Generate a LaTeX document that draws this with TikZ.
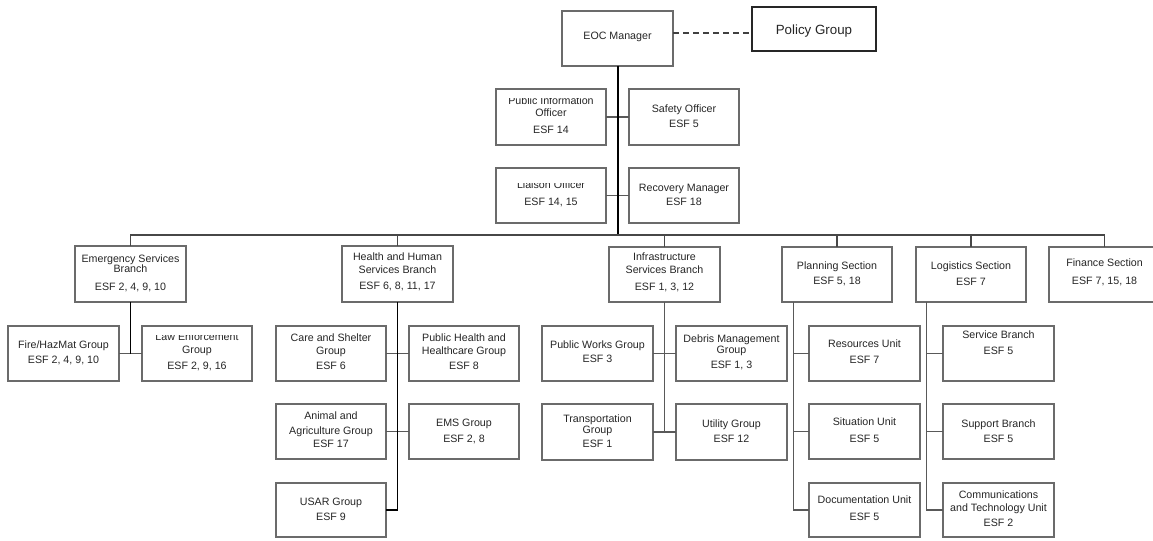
\documentclass[tikz,border=0pt]{standalone}
\usepackage{fontspec}
\setmainfont{Liberation Sans}
\tikzset{
  bx/.style={rectangle, draw=black!58, line width=0.8pt, fill=white, inner sep=0pt, outer sep=0pt},
  pbx/.style={rectangle, draw=black!85, line width=1.1pt, fill=white, inner sep=0pt, outer sep=0pt},
  txt/.style={align=center, font=\fontsize{8}{9}\selectfont, text=black!85, inner sep=0pt},
  trunk/.style={draw=black, line width=1.5pt},
  buslink/.style={draw=black!72, line width=0.85pt},
  link/.style={draw=black!65, line width=0.8pt},
  dlink/.style={draw=black, line width=1.1pt},
  dashlink/.style={draw=black!75, line width=0.9pt, dash pattern=on 4.5pt off 3pt},
}
% \orgbox[text yshift]{name}{x1}{y1}{x2}{y2}{text}
\newcommand\orgbox[7][0.8pt]{%
  \node[bx, minimum width={(#5-#3)*0.75pt}, minimum height={(#6-#4)*0.75pt}] (#2) at ({(#3+#5)/2},{(#4+#6)/2}) {};
  \node[txt, yshift=#1] (#2-t) at (#2.center) {#7};}
% \cutbox[text yshift]{name}{x1}{y1}{x2}{y2}{clip top}{text}
\newcommand\cutbox[8][0.8pt]{%
  \node[bx, minimum width={(#5-#3)*0.75pt}, minimum height={(#6-#4)*0.75pt}] (#2) at ({(#3+#5)/2},{(#4+#6)/2}) {};
  \begin{scope}
    \clip (#3,#7) rectangle (#5,#6);
    \node[txt, yshift=#1] (#2-t) at (#2.center) {#8};
  \end{scope}}
\begin{document}
\begin{tikzpicture}[x=0.75pt, y=-0.75pt]
\useasboundingbox (0,0) rectangle (1153,540);
\clip (0,0) rectangle (1153,540);

% top
\orgbox[1.3pt]{eoc}{562}{11}{673}{66}{EOC Manager}
\node[pbx, minimum width={124*0.75pt}, minimum height={44*0.75pt}] (policy) at (814,29) {};
\node[txt, font=\fontsize{10}{12}\selectfont, yshift=-1.2pt] (policy-t) at (policy.center) {Policy Group};

\cutbox[1.5pt]{pio}{496}{89}{606}{145}{98.5}{Public Information\\Officer\\[3.5pt]ESF 14}
\orgbox[0.3pt]{safety}{629}{89}{739}{145}{Safety Officer\\[2.25pt]ESF 5}
\cutbox[1.1pt]{liaison}{496}{168}{606}{223}{183.5}{Liaison Officer\\[4.1pt]ESF 14, 15}
\orgbox[0.3pt]{recovery}{629}{168}{739}{223}{Recovery Manager\\[1.5pt]ESF 18}

% branches / sections
\orgbox[0.4pt]{esb}{75}{246}{186}{302}{Emergency Services\\[-1.5pt]Branch\\[4pt]ESF 2, 4, 9, 10}
\orgbox[1.4pt]{hhs}{342}{246}{453}{302}{Health and Human\\[0.5pt]Services Branch\\[3.3pt]ESF 6, 8, 11, 17}
\orgbox[1.5pt]{infra}{609}{247}{720}{302}{Infrastructure\\[0.5pt]Services Branch\\[3.75pt]ESF 1, 3, 12}
\orgbox[0.5pt]{plan}{782}{247}{892}{302}{Planning Section\\[2.75pt]ESF 5, 18}
\orgbox[0.5pt]{logi}{916}{247}{1026}{302}{Logistics Section\\[2.75pt]ESF 7}
\orgbox[1.5pt]{fin}{1049}{247}{1160}{302}{Finance Section\\[4.8pt]ESF 7, 15, 18}

% emergency services
\orgbox[0.3pt]{fire}{8}{326}{119}{381}{Fire/HazMat Group\\[2.25pt]ESF 2, 4, 9, 10}
\cutbox[1.4pt]{law}{142}{326}{252}{381}{335}{Law Enforcement\\[1pt]Group\\[2.5pt]ESF 2, 9, 16}

% health and human services
\orgbox[1.4pt]{care}{276}{326}{386}{381}{Care and Shelter\\[1pt]Group\\[2.5pt]ESF 6}
\orgbox[1.4pt]{pubh}{409}{326}{519}{381}{Public Health and\\[1pt]Healthcare Group\\[2.5pt]ESF 8}
\orgbox[1.6pt]{animal}{276}{404}{386}{459}{Animal and\\[2.25pt]Agriculture Group\\[1pt]ESF 17}
\orgbox[0.2pt]{ems}{409}{404}{519}{459}{EMS Group\\[3pt]ESF 2, 8}
\orgbox[0.4pt]{usar}{276}{483}{386}{537}{USAR Group\\[1.8pt]ESF 9}

% infrastructure
\orgbox[1.1pt]{pubw}{542}{326}{653}{381}{Public Works Group\\[1.5pt]ESF 3}
\orgbox[0.9pt]{debris}{676}{326}{787}{381}{Debris Management\\[-0.5pt]Group\\[2pt]ESF 1, 3}
\orgbox[0.9pt]{transp}{542}{404}{653}{460}{Transportation\\[-0.2pt]Group\\[1pt]ESF 1}
\orgbox[0.9pt]{utility}{676}{404}{787}{460}{Utility Group\\[2.25pt]ESF 12}

% planning
\orgbox[1.6pt]{res}{809}{326}{920}{381}{Resources Unit\\[3pt]ESF 7}
\orgbox[1.1pt]{sit}{809}{404}{920}{459}{Situation Unit\\[3.5pt]ESF 5}
\orgbox[1.3pt]{doc}{809}{483}{920}{537}{Documentation Unit\\[3.5pt]ESF 5}

% logistics
\orgbox[8.1pt]{serv}{943}{326}{1054}{381}{Service Branch\\[3.5pt]ESF 5}
\orgbox[0.5pt]{supp}{943}{404}{1054}{459}{Support Branch\\[2.25pt]ESF 5}
\orgbox[1.1pt]{comm}{943}{483}{1054}{537}{Communications\\[1pt]and Technology Unit\\[2.25pt]ESF 2}

% helper coordinates
\coordinate (bus) at (617,235);
\coordinate (dash) at (0,33);
\coordinate (plv) at (793.3,302);
\coordinate (lgv) at (926.7,302);

% connectors
\draw[dashlink] (eoc.east |- dash) -- (policy.west |- dash);
\draw[link] (pio.east) -- (safety.west);
\draw[link] (liaison.east) -- (recovery.west);
\draw[trunk] (eoc.south) -- (eoc.south |- bus);

\draw[buslink] (esb.north) |- (fin.north |- bus) -- (fin.north);
\draw[buslink] (hhs.north) -- (hhs.north |- bus);
\draw[buslink] (infra.north) -- (infra.north |- bus);
\draw[buslink] (plan.north) -- (plan.north |- bus);
\draw[buslink] (logi.north) -- (logi.north |- bus);

\draw[link] (fire.east) -- (law.west);
\draw[dlink] (esb.south) -- (esb.south |- fire.east);

\draw[link] (care.east) -- (pubh.west);
\draw[link] (animal.east) -- (ems.west);
\draw[dlink] (hhs.south) |- (usar.east);

\draw[link] (pubw.east) -- (debris.west);
\draw[link] (transp.east) -- (utility.west);
\draw[link] (infra.south) -- (infra.south |- transp.east);

\draw[link] (plv) |- (doc.west);
\draw[link] (res.west) -- (res.west -| plv);
\draw[link] (sit.west) -- (sit.west -| plv);

\draw[link] (lgv) |- (comm.west);
\draw[link] (serv.west) -- (serv.west -| lgv);
\draw[link] (supp.west) -- (supp.west -| lgv);
\end{tikzpicture}
\end{document}
